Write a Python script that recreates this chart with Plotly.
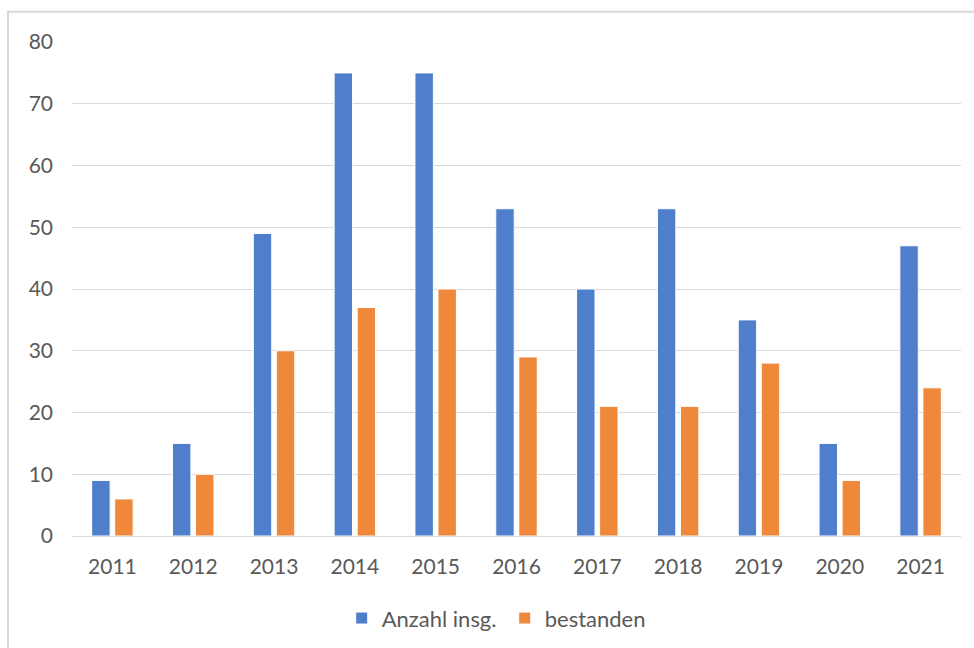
import plotly.graph_objects as go

years = ["2011", "2012", "2013", "2014", "2015", "2016", "2017", "2018", "2019", "2020", "2021"]
anzahl_insg = [9, 15, 49, 75, 75, 53, 40, 53, 35, 15, 47]
bestanden = [6, 10, 30, 37, 40, 29, 21, 21, 28, 9, 24]
y_ticks = [0, 10, 20, 30, 40, 50, 60, 70, 80]

BLUE = "#4f7fcc"
ORANGE = "#ef883a"
TEXT = "#595959"
GRID = "#d9d9d9"
FONT = "Lato, Open Sans, sans-serif"
FS = 21

fig = go.Figure()
fig.add_trace(go.Bar(x=years, y=anzahl_insg, name="Anzahl insg.",
                     marker=dict(color=BLUE, line=dict(color="white", width=1))))
fig.add_trace(go.Bar(x=years, y=bestanden, name="bestanden",
                     marker=dict(color=ORANGE, line=dict(color="white", width=1))))

fig.update_layout(
    width=974, height=648,
    margin=dict(l=72, r=13, t=42, b=112, autoexpand=False),
    paper_bgcolor="white", plot_bgcolor="white",
    font=dict(family=FONT, size=FS, color=TEXT),
    barmode="group", bargap=0.43, bargroupgap=0.2,
    showlegend=True,
    legend=dict(orientation="h", x=0.3034, xanchor="left", y=-0.124, yanchor="top",
                font=dict(size=22, color=TEXT), itemwidth=30,
                entrywidth=118, entrywidthmode="pixels", traceorder="normal"),
    shapes=[dict(type="rect", xref="paper", yref="paper",
                 x0=-0.072, x1=1.2, y0=-0.5, y1=1.061,
                 line=dict(color=GRID, width=2), fillcolor="rgba(0,0,0,0)", layer="below")],
)
fig.update_xaxes(showgrid=False, showline=True, linecolor=GRID, linewidth=1,
                 ticks="", tickfont=dict(size=FS, color=TEXT), ticklabelstandoff=12)
fig.update_yaxes(range=[0, 80], tickvals=y_ticks, showgrid=True, gridcolor=GRID, gridwidth=1,
                 zeroline=False, showline=False, ticks="",
                 tickfont=dict(size=FS, color=TEXT), ticklabelstandoff=18)

fig.write_html("out.html")
